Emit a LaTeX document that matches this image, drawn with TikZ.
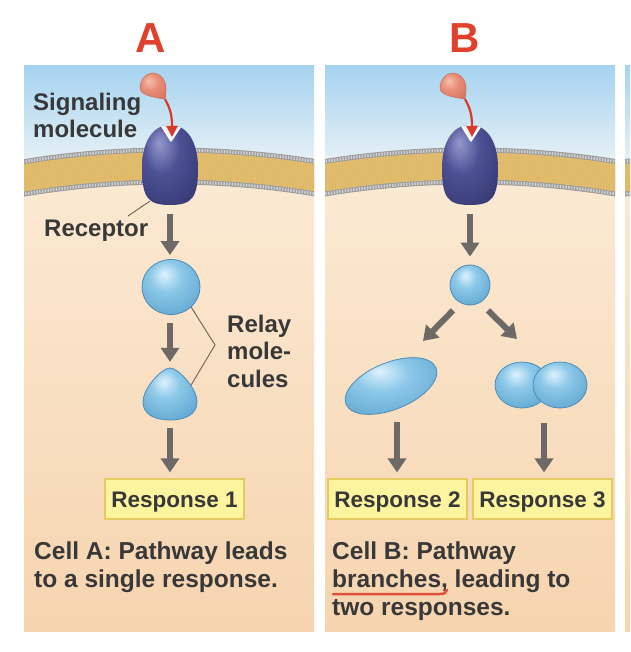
\documentclass[tikz,border=0pt]{standalone}
\usepackage{fontspec}
\setmainfont{Liberation Sans}
\usetikzlibrary{arrows.meta,shapes.geometric,calc}

\definecolor{skytop}{HTML}{A5D3F0}
\definecolor{skybot}{HTML}{EBF3F6}
\definecolor{cytotop}{HTML}{FCEBD6}
\definecolor{cytobot}{HTML}{F6D4AF}
\definecolor{memgray}{HTML}{9C9C9C}
\definecolor{memlight}{HTML}{D2D2D2}
\definecolor{memgold}{HTML}{E0BC6C}
\definecolor{notchfill}{HTML}{E9F3F8}
\definecolor{recHL}{HTML}{9599CF}
\definecolor{recMid}{HTML}{4D5294}
\definecolor{recDark}{HTML}{30346F}
\definecolor{relHL}{HTML}{DDF2FD}
\definecolor{relMid}{HTML}{8CC8E8}
\definecolor{relDark}{HTML}{4F98C8}
\definecolor{relEdge}{HTML}{4B8DBB}
\definecolor{sigHL}{HTML}{F7C0AE}
\definecolor{sigMid}{HTML}{E98E78}
\definecolor{sigDark}{HTML}{CF6B56}
\definecolor{sigred}{HTML}{D9382B}
\definecolor{arrowgray}{HTML}{6C6966}
\definecolor{txt}{HTML}{383838}
\definecolor{labred}{HTML}{E1402D}
\definecolor{respfill}{HTML}{FDF49F}
\definecolor{respedge}{HTML}{E3CB62}
\definecolor{leader}{HTML}{7A6A5E}
\definecolor{ulred}{HTML}{E0503C}

\pgfdeclareradialshading{recshade}{\pgfpoint{-10bp}{14bp}}{color(0bp)=(recHL); color(16bp)=(recMid); color(42bp)=(recDark); color(70bp)=(recDark)}
\pgfdeclareradialshading{relshade}{\pgfpoint{-6bp}{12bp}}{color(0bp)=(relHL); color(14bp)=(relMid); color(44bp)=(relDark); color(70bp)=(relDark)}
\pgfdeclareradialshading{sigshade}{\pgfpoint{-8bp}{10bp}}{color(0bp)=(sigHL); color(16bp)=(sigMid); color(45bp)=(sigDark); color(70bp)=(sigDark)}

\tikzset{
  flowarrow/.style={draw=arrowgray, line width=6pt, -{Triangle[width=18pt,length=14pt]}},
  sigarrow/.style={draw=sigred, line width=2.2pt, -{Triangle[width=11pt,length=11pt]}},
  leaderline/.style={draw=leader, line width=1pt},
  relaymol/.style={shade, shading=relshade, draw=relEdge, line width=0.8pt, inner sep=0pt},
  anchorbox/.style={inner sep=0pt, draw=none, fill=none},
  respbox/.style={rectangle, fill=respfill, draw=respedge, line width=1.2pt, minimum width=139pt, minimum height=40pt, inner sep=0pt, text height=16pt, text depth=0pt, font=\bfseries\fontsize{22.5}{27}\selectfont, text=txt},
  lbltxt/.style={font=\bfseries\fontsize{24}{27.5}\selectfont, text=txt, inner sep=0pt, align=left},
  celltxt/.style={font=\bfseries\fontsize{24.5}{28}\selectfont, text=txt, inner sep=0pt, align=left},
  panelletter/.style={font=\bfseries\fontsize{42}{50}\selectfont, text=labred, inner sep=0pt, text height=30pt, text depth=0pt},
}

\newcommand{\cellbg}[3]{%
  \shade[top color=skytop, bottom color=skybot] (#1,66) rectangle (#2,168);
  \begin{scope}
    \clip (#1,66) rectangle (#2,631);
    \begin{scope}
      \clip (#3,1060) circle[radius=894];
      \shade[top color=cytotop, bottom color=cytobot] (#1,140) rectangle (#2,631);
    \end{scope}
    \draw[memgray, line width=37pt] (#3,1060) circle[radius=894];
    \draw[memlight, line width=3pt, dash pattern=on 1.4pt off 1.4pt] (#3,1060) circle[radius=910];
    \draw[memlight, line width=3pt, dash pattern=on 1.4pt off 1.4pt] (#3,1060) circle[radius=878];
    \draw[memgold, line width=27pt] (#3,1060) circle[radius=894];
    \draw[memgold!80!brown, line width=25pt, dash pattern=on 0.6pt off 2.6pt, opacity=0.35] (#3,1060) circle[radius=894];
  \end{scope}}

\newcommand{\recpath}{(170,125) .. controls (188,125) and (198,143) .. (198,168) .. controls (198,198) and (192,205) .. (170,205) .. controls (148,205) and (142,198) .. (142,168) .. controls (142,143) and (152,125) .. (170,125) -- cycle}

\newcommand{\recgroup}[2]{%
  \begin{scope}[shift={(#2-170,0)}]
    \shade[shading=recshade] \recpath;
    \node[anchorbox, minimum width=56pt, minimum height=80pt] (rec#1) at (170,165) {};
    \begin{scope}
      \clip \recpath;
      \fill[notchfill] (157,118) -- (171,141) -- (186,118) -- cycle;
      \draw[white, line width=1.5pt, line join=round] (158,120) -- (171,141) -- (185,120);
    \end{scope}
    \shade[shading=sigshade, draw=sigDark, line width=0.5pt] (165,99) .. controls (158,98) and (140,96) .. (140,88) .. controls (140,80) and (146,73) .. (153,73) .. controls (160,73) and (166,80) .. (166,88) .. controls (166,93) and (166,96) .. (165,99) -- cycle;
    \node[anchorbox, minimum width=27pt, minimum height=26pt] (sig#1) at (153,86) {};
    \coordinate (sig#1tip) at (165,99);
    \coordinate (notch#1) at (172,137);
    \draw[sigarrow] (sig#1tip) .. controls (169,107) and (172,112) .. (notch#1);
  \end{scope}}

\begin{document}
\begin{tikzpicture}[x=1pt,y=-1pt]
\useasboundingbox (0,0) rectangle (630,652);
\fill[white] (0,0) rectangle (630,652);

\cellbg{24}{314}{170}
\cellbg{325}{615}{470}
\cellbg{625}{630}{771}

\recgroup{A}{170}
\recgroup{B}{470}

% panel letters
\node[panelletter] (labA) at (151,37.5) {A};
\node[panelletter] (labB) at (465,37.5) {B};

% ---------- panel A ----------
\node[lbltxt, anchor=north west] (sigLabel) at (33,92.5) {Signaling\\molecule};
\node[lbltxt, anchor=base west] (recLabel) at (44,236.5) {Receptor};
\coordinate (recLead) at (128,216);
\draw[leaderline] ($(recA.south west)+(8,-4)$) -- (recLead);

\node[relaymol, ellipse, minimum width=58pt, minimum height=55pt] (relA1) at (171,287) {};
\shade[shading=relshade, draw=relEdge, line width=0.8pt] (170,368) .. controls (178,368) and (197,388) .. (197,402) .. controls (197,414) and (186,420) .. (170,420) .. controls (154,420) and (143,414) .. (143,402) .. controls (143,388) and (162,368) .. (170,368) -- cycle;
\node[anchorbox, circle, minimum size=46pt] (relA2) at (170,395) {};

\node[lbltxt, anchor=north west] (relayLabel) at (227,314.5) {Relay\\mole-\\cules};
\coordinate (relayV) at (215,345);
\draw[leaderline] (relA1.-45) -- (relayV) -- (relA2.25);

\node[respbox] (resp1) at (174.5,499) {Response 1};

\draw[flowarrow] ($(recA.south)+(0,9)$) -- ($(relA1.north)+(-1,-4)$);
\draw[flowarrow] ($(relA1.south)+(-1,8)$) -- ($(relA2.north)+(0,-10)$);
\draw[flowarrow] ($(relA2.south)+(0,10)$) -- ($(resp1.north)+(-4.5,-6)$);

\node[celltxt, anchor=north west] (cellA) at (34,542) {Cell A: Pathway leads\\to a single response.};

% ---------- panel B ----------
\node[relaymol, circle, minimum size=40pt] (relB) at (470,285) {};
\node[relaymol, ellipse, rotate=22, minimum width=97pt, minimum height=47pt] (ellB) at (391,386) {};
\shade[shading=relshade, draw=relEdge, line width=0.8pt] (522,385) ellipse[x radius=27, y radius=23];
\shade[shading=relshade, draw=relEdge, line width=0.8pt] (560,385) ellipse[x radius=27, y radius=23];
\node[anchorbox, minimum width=92pt, minimum height=48pt] (dumB) at (541,385) {};

\node[respbox] (resp2) at (397.5,499) {Response 2};
\node[respbox] (resp3) at (542.5,499) {Response 3};

\draw[flowarrow] ($(recB.south)+(0,9)$) -- ($(relB.north)+(0,-8)$);
\draw[flowarrow] ($(relB.south)+(-17,5)$) -- ($(ellB.center)+(32,-45)$);
\draw[flowarrow] ($(relB.south)+(18,5)$) -- ($(dumB.center)+(-24,-46)$);
\draw[flowarrow] ($(ellB.center)+(6,36)$) -- ($(resp2.north)+(-0.5,-6)$);
\draw[flowarrow] ($(dumB.south)+(3,14)$) -- ($(resp3.north)+(1.5,-6)$);

\node[celltxt, anchor=north west] (cellB) at (332,542) {Cell B: Pathway\\branches, leading to\\two responses.};
\draw[ulred, line width=2.5pt, line cap=round] (333,594) -- (440,594) .. controls (444,594) and (446,593) .. (447,590);

\end{tikzpicture}
\end{document}
